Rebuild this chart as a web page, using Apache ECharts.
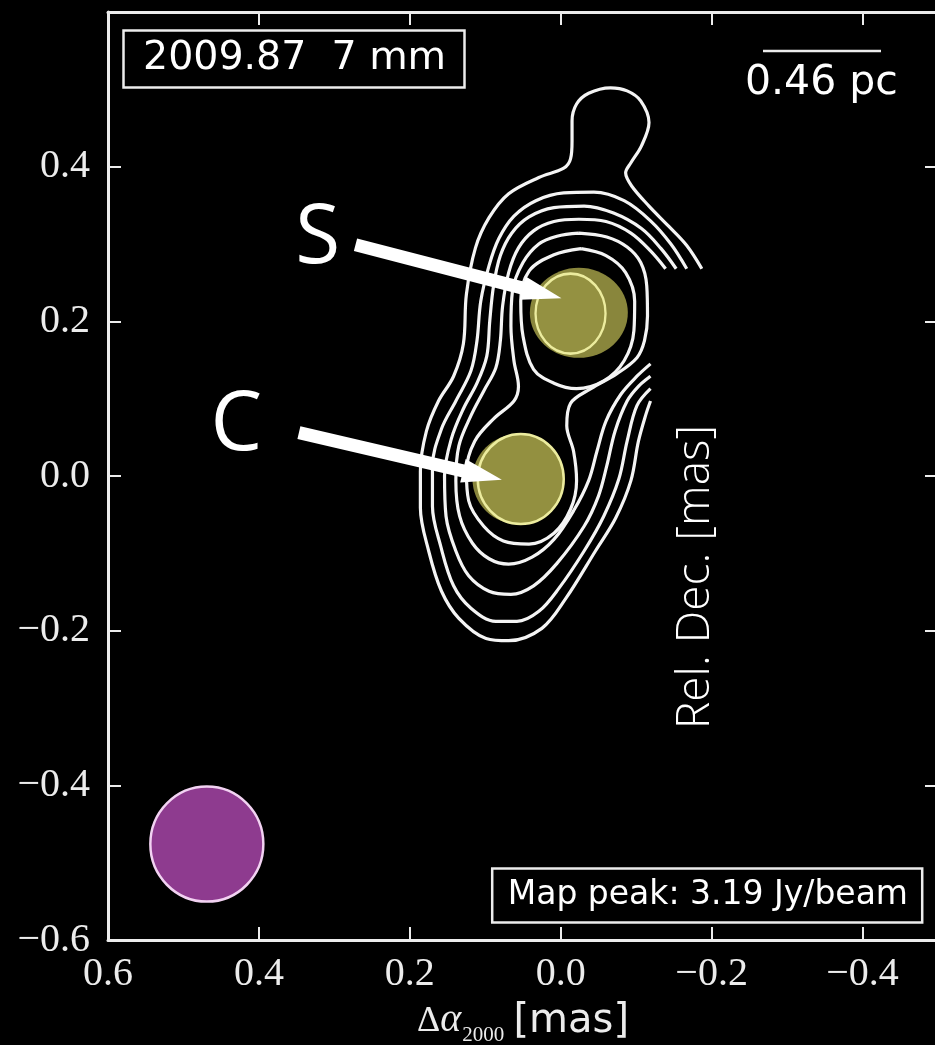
<!DOCTYPE html>
<html><head><meta charset="utf-8">
<script src="https://cdn.jsdelivr.net/npm/echarts@6/dist/echarts.min.js"></script>
<style>html,body{margin:0;padding:0;background:#000;}#c{width:935px;height:1045px;}</style>
</head><body><div id="c"></div>
<script>
// ---- data (all in map coordinates, mas) ----
const xTickValues = [0.6, 0.4, 0.2, 0.0, -0.2, -0.4];
const xRange = [-0.5, 0.6];
const yRange = [-0.6, 0.6];
const yInterval = 0.2;

const contourL1 = [[-0.187,0.268],[-0.167,0.298],[-0.143,0.323],[-0.117,0.349],[-0.094,0.375],[-0.086,0.392],[-0.093,0.405],[-0.107,0.427],[-0.117,0.457],[-0.106,0.485],[-0.088,0.498],[-0.066,0.502],[-0.037,0.495],[-0.021,0.481],[-0.015,0.459],[-0.015,0.433],[-0.013,0.410],[-0.004,0.398],[0.029,0.386],[0.069,0.365],[0.095,0.334],[0.113,0.295],[0.125,0.235],[0.129,0.171],[0.142,0.129],[0.162,0.097],[0.178,0.058],[0.186,0.006],[0.186,-0.041],[0.175,-0.097],[0.158,-0.149],[0.135,-0.184],[0.099,-0.210],[0.069,-0.213],[0.025,-0.197],[-0.007,-0.158],[-0.046,-0.097],[-0.073,-0.054],[-0.093,-0.006],[-0.103,0.045],[-0.113,0.080],[-0.119,0.097]];
const contourL2 = [[-0.167,0.268],[-0.146,0.300],[-0.119,0.330],[-0.084,0.356],[-0.044,0.367],[-0.004,0.366],[0.033,0.356],[0.062,0.336],[0.082,0.307],[0.095,0.272],[0.106,0.226],[0.111,0.175],[0.119,0.136],[0.139,0.097],[0.158,0.061],[0.170,0.013],[0.170,-0.039],[0.159,-0.091],[0.142,-0.142],[0.119,-0.171],[0.086,-0.188],[0.058,-0.188],[0.029,-0.175],[0.003,-0.146],[-0.031,-0.097],[-0.057,-0.052],[-0.077,-0.004],[-0.088,0.045],[-0.101,0.091],[-0.119,0.113]];
const contourL3 = [[-0.153,0.268],[-0.133,0.294],[-0.107,0.320],[-0.070,0.340],[-0.031,0.349],[0.009,0.347],[0.042,0.335],[0.065,0.314],[0.080,0.285],[0.089,0.246],[0.094,0.201],[0.098,0.155],[0.111,0.120],[0.129,0.087],[0.145,0.048],[0.154,0.000],[0.152,-0.052],[0.139,-0.097],[0.122,-0.129],[0.095,-0.149],[0.066,-0.153],[0.036,-0.142],[0.005,-0.113],[-0.031,-0.065],[-0.050,-0.026],[-0.061,0.013],[-0.072,0.058],[-0.088,0.097],[-0.103,0.116],[-0.119,0.129]];
const contourL4 = [[-0.139,0.268],[-0.119,0.291],[-0.093,0.314],[-0.060,0.329],[-0.024,0.332],[0.009,0.329],[0.036,0.317],[0.056,0.295],[0.069,0.263],[0.077,0.220],[0.080,0.175],[0.086,0.140],[0.102,0.110],[0.119,0.078],[0.135,0.039],[0.139,-0.006],[0.134,-0.052],[0.117,-0.087],[0.095,-0.107],[0.069,-0.114],[0.038,-0.105],[0.009,-0.082],[-0.017,-0.045],[-0.037,-0.006],[-0.048,0.032],[-0.060,0.071],[-0.080,0.106],[-0.101,0.129],[-0.119,0.145]];
const contourL5 = [[-0.024,0.314],[-0.061,0.309],[-0.088,0.296],[-0.106,0.276],[-0.114,0.246],[-0.115,0.207],[-0.111,0.175],[-0.101,0.153],[-0.074,0.132],[-0.040,0.113],[-0.013,0.094],[-0.008,0.065],[-0.017,0.032],[-0.021,-0.006],[-0.013,-0.043],[0.009,-0.074],[0.042,-0.088],[0.076,-0.084],[0.102,-0.065],[0.122,-0.032],[0.125,0.006],[0.114,0.045],[0.089,0.074],[0.062,0.097],[0.056,0.116],[0.062,0.149],[0.066,0.194],[0.064,0.239],[0.050,0.276],[0.029,0.300],[0.005,0.310],[-0.024,0.314]];
const contourS = [[-0.027,0.294],[-0.060,0.285],[-0.086,0.263],[-0.098,0.226],[-0.097,0.188],[-0.084,0.149],[-0.057,0.123],[-0.021,0.113],[0.009,0.120],[0.036,0.138],[0.050,0.181],[0.053,0.226],[0.042,0.265],[0.009,0.286],[-0.027,0.294]];

const coreS = [-0.024, 0.211];
const ringS = [-0.013, 0.210];
const coreC = [0.056, -0.004];
const ringC = [0.053, -0.004];
const beamCenter = [0.469, -0.476];
const arrowS = [0.272, 0.299, -0.001, 0.230];
const arrowC = [0.347, 0.056, 0.078, -0.005];
const labelS = [0.322, 0.306];
const labelC = [0.430, 0.064];

const epochText = '2009.87  7 mm';
const scaleText = '0.46 pc';
const peakText = 'Map peak: 3.19 Jy/beam';
const yTitle = 'Rel. Dec. [mas]';

// ---- chart ----
const FG = '#ececec';
const fmt = v => (v < -1e-9 ? '\u2212' : '') + Math.abs(v).toFixed(1);
const tickFont = {color: FG, fontFamily: 'Liberation Serif', fontSize: 40};

function contourSeries(data) {
  return {type: 'line', data: data, symbol: 'none', showSymbol: false, smooth: 0.35,
    lineStyle: {color: '#f4f4f4', width: 3.2}, silent: true, z: 2, animation: false};
}
function arrowRender(params, api) {
  const p0 = api.coord([api.value(0), api.value(1)]);
  const p1 = api.coord([api.value(2), api.value(3)]);
  const dx = p1[0]-p0[0], dy = p1[1]-p0[1], L = Math.hypot(dx, dy);
  const ux = dx/L, uy = dy/L, nx = -uy, ny = ux;
  const sw = 6.5, hw = 12, hl = 40;
  const bx = p1[0]-ux*hl, by = p1[1]-uy*hl;
  return {type: 'polygon', shape: {points: [
    [p0[0]+nx*sw, p0[1]+ny*sw], [bx+nx*sw, by+ny*sw], [bx+nx*hw, by+ny*hw], p1,
    [bx-nx*hw, by-ny*hw], [bx-nx*sw, by-ny*sw], [p0[0]-nx*sw, p0[1]-ny*sw]]},
    style: {fill: '#ffffff'}};
}
const letters = ['S', 'C'];
function letterRender(params, api) {
  const p = api.coord([api.value(0), api.value(1)]);
  return {type: 'text', x: p[0], y: p[1],
    style: {text: letters[params.dataIndex], fill: '#ffffff', font: '82px "Open Sans"',
      align: 'center', verticalAlign: 'middle'}};
}

const axisLineStyle = {show: true, onZero: false, lineStyle: {color: FG, width: 3}};
const tickStyle = {show: true, inside: true, length: 13, lineStyle: {color: FG, width: 2}};

const chart = echarts.init(document.getElementById('c'), null, {renderer: 'canvas'});
chart.setOption({
  backgroundColor: '#000',
  animation: false,
  grid: {left: 108, top: 12, width: 830, height: 928, containLabel: false, outerBoundsMode: 'none'},
  title: [
    {text: epochText, left: 123, top: 30, borderColor: FG, borderWidth: 2.5, padding: [9, 19, 9, 20],
      textStyle: {color: '#fff', fontFamily: 'DejaVu Sans', fontSize: 39.5, fontWeight: 'normal'}},
    {text: peakText, right: 13, top: 868, borderColor: FG, borderWidth: 2.5, padding: [11, 14, 11, 16],
      textStyle: {color: '#fff', fontFamily: 'DejaVu Sans', fontSize: 33, fontWeight: 'normal'}},
    {text: scaleText, left: 745, top: 63, padding: 0,
      textStyle: {color: '#fff', fontFamily: 'DejaVu Sans', fontSize: 41, fontWeight: 'normal'}}
  ],
  xAxis: [
    {type: 'value', position: 'bottom', inverse: true, min: xRange[0], max: xRange[1],
      axisLine: axisLineStyle, axisTick: Object.assign({customValues: xTickValues}, tickStyle),
      axisLabel: Object.assign({customValues: xTickValues, formatter: fmt, margin: 14}, tickFont),
      splitLine: {show: false},
      name: '{d|\u0394}{a|\u03b1}{s|2000} {m|[mas]}', nameLocation: 'middle', nameGap: 60,
      nameTextStyle: {color: FG, rich: {
        d: {fontFamily: 'Liberation Serif', fontSize: 36, color: FG, verticalAlign: 'bottom', padding: [0, 0, 6, 0]},
        a: {fontFamily: 'Liberation Serif', fontStyle: 'italic', fontSize: 40, color: FG, verticalAlign: 'bottom', padding: [0, 1, 6, 0]},
        s: {fontFamily: 'Liberation Serif', fontSize: 21, color: FG, verticalAlign: 'bottom', padding: [0, 6, 0, 0]},
        m: {fontFamily: 'DejaVu Sans', fontSize: 40, color: FG, verticalAlign: 'bottom', padding: [0, 0, 4, 0]}
      }}},
    {type: 'value', position: 'top', inverse: true, min: xRange[0], max: xRange[1],
      axisLine: axisLineStyle, axisTick: Object.assign({customValues: xTickValues}, tickStyle),
      axisLabel: {show: false}, splitLine: {show: false}}
  ],
  yAxis: [
    {type: 'value', position: 'left', min: yRange[0], max: yRange[1], interval: yInterval,
      axisLine: axisLineStyle, axisTick: tickStyle,
      axisLabel: Object.assign({formatter: fmt, margin: 18, showMaxLabel: false}, tickFont),
      splitLine: {show: false}},
    {type: 'value', position: 'right', min: yRange[0], max: yRange[1], interval: yInterval,
      axisLine: axisLineStyle, axisTick: tickStyle, axisLabel: {show: false}, splitLine: {show: false}}
  ],
  series: [
    contourSeries(contourL1), contourSeries(contourL2), contourSeries(contourL3),
    contourSeries(contourL4), contourSeries(contourL5), contourSeries(contourS),
    {type: 'scatter', data: [coreS], symbol: 'circle', symbolSize: [98, 90], z: 3, silent: true,
      itemStyle: {color: '#89863c', opacity: 1}},
    {type: 'scatter', data: [coreC], symbol: 'circle', symbolSize: [92, 90], z: 3, silent: true,
      itemStyle: {color: '#89863c', opacity: 1}},
    {type: 'scatter', data: [ringS], symbol: 'circle', symbolSize: [70, 80], z: 4, silent: true,
      itemStyle: {color: 'rgba(165,162,72,0.4)', borderColor: '#ecec9e', borderWidth: 2.5, opacity: 1}},
    {type: 'scatter', data: [ringC], symbol: 'circle', symbolSize: [86, 90], z: 4, silent: true,
      itemStyle: {color: 'rgba(165,162,72,0.35)', borderColor: '#ecec9e', borderWidth: 2.5, opacity: 1}},
    {type: 'scatter', data: [beamCenter], symbol: 'circle', symbolSize: [113, 115], z: 3, silent: true,
      itemStyle: {color: '#8e3b8f', borderColor: '#f2d2f2', borderWidth: 2.5, opacity: 1}},
    {type: 'custom', renderItem: arrowRender, data: [arrowS, arrowC], z: 6, silent: true},
    {type: 'custom', renderItem: letterRender, data: [labelS, labelC], z: 6, silent: true}
  ],
  graphic: [
    {type: 'line', shape: {x1: 763, y1: 51, x2: 881, y2: 51}, style: {stroke: FG, lineWidth: 2.5}},
    {type: 'text', x: 696, y: 577, rotation: Math.PI / 2,
      style: {text: yTitle, fill: '#fff', font: '300 46px "Open Sans"', align: 'center', verticalAlign: 'middle'}}
  ]
});
</script></body></html>
